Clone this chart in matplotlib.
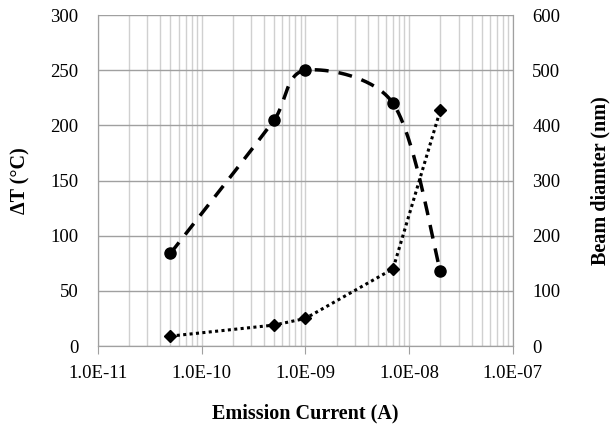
import numpy as np
import matplotlib
matplotlib.use("Agg")
import matplotlib.pyplot as plt
from matplotlib.ticker import LogLocator, FixedLocator, NullFormatter

plt.rcParams['font.family'] = ['Liberation Serif', 'DejaVu Serif']

current = [5e-11, 5e-10, 1e-9, 7e-9, 2e-8]
delta_t = [84, 205, 250, 220, 68]
beam_diameter = [18, 38, 50, 140, 428]

left_ticks = [0, 50, 100, 150, 200, 250, 300]
right_ticks = [0, 100, 200, 300, 400, 500, 600]
x_ticks = [1e-11, 1e-10, 1e-9, 1e-8, 1e-7]
x_tick_labels = ["1.0E-11", "1.0E-10", "1.0E-09", "1.0E-08", "1.0E-07"]

fig = plt.figure(figsize=(6.12, 4.32), dpi=100)
ax = fig.add_axes([0.160, 0.199, 0.678, 0.766])
ax2 = ax.twinx()

ax.set_xscale('log')
ax.set_xlim(1e-11, 1e-7)
ax.set_ylim(0, 300)
ax2.set_ylim(0, 600)


def smooth(axis, xs, ys, n=60, cap=0.35):
    # Smoothed line through the data points: cardinal Bezier in display space
    pts = axis.transData.transform(np.column_stack([xs, ys]))
    out = []
    m = len(pts)

    def limit(v, seg):
        L = np.hypot(*v)
        maxL = cap * seg
        return v * (maxL / L) if L > maxL else v

    for i in range(m - 1):
        p0 = pts[i - 1] if i > 0 else pts[i]
        p1 = pts[i]
        p2 = pts[i + 1]
        p3 = pts[i + 2] if i + 2 < m else pts[i + 1]
        seg = np.hypot(*(p2 - p1))
        c1 = p1 + limit((p2 - p0) / 6.0, seg)
        c2 = p2 - limit((p3 - p1) / 6.0, seg)
        t = np.linspace(0, 1, n)[:, None]
        b = ((1 - t) ** 3) * p1 + 3 * ((1 - t) ** 2) * t * c1 + 3 * (1 - t) * t ** 2 * c2 + t ** 3 * p2
        if i > 0:
            b = b[1:]
        out.append(b)
    out = np.vstack(out)
    data = axis.transData.inverted().transform(out)
    return data[:, 0], data[:, 1]

fig.canvas.draw()
sx, sy = smooth(ax, current, delta_t)
ax.plot(sx, sy, color='black', lw=2.5, linestyle=(0, (4.0, 2.9)), zorder=3)
ax.plot(current, delta_t, 'o', color='black', ms=8, zorder=4)

ax2.plot(current, beam_diameter, color='black', lw=2.2, linestyle=(0, (1.0, 1.1)), zorder=3)
ax2.plot(current, beam_diameter, 'D', color='black', ms=6.5, zorder=4)

# grid
ax.set_yticks(left_ticks)
ax.yaxis.grid(True, color='#a0a0a0', lw=1.0)
ax.xaxis.set_major_locator(FixedLocator(x_ticks))
ax.xaxis.set_minor_locator(LogLocator(base=10, subs=np.arange(2, 10), numticks=20))
ax.xaxis.set_minor_formatter(NullFormatter())
ax.set_xticklabels(x_tick_labels)
ax.xaxis.grid(True, which='both', color='#d0d0d0', lw=1.0)
ax.set_axisbelow(True)

ax2.set_yticks(right_ticks)

for a in (ax, ax2):
    a.spines['top'].set_visible(False)
    a.spines['left'].set_color('#a0a0a0')
    a.spines['right'].set_color('#a0a0a0')
    a.spines['bottom'].set_color('#a0a0a0')

ax.tick_params(axis='y', length=0, labelsize=13.5, pad=14)
ax2.tick_params(axis='y', length=0, labelsize=13.5, pad=14)
ax.tick_params(axis='x', which='major', length=6, color='#a0a0a0', labelsize=13.5, pad=8)
ax.tick_params(axis='x', which='minor', length=0)

ax.set_xlabel('Emission Current (A)', fontsize=14.5, fontweight='bold', labelpad=15)
ax.set_ylabel('ΔT (°C)', fontsize=14.5, fontweight='bold', labelpad=14)
ax2.set_ylabel('Beam diamter (nm)', fontsize=14.5, fontweight='bold', labelpad=22)

fig.savefig('out.png', dpi=100)
